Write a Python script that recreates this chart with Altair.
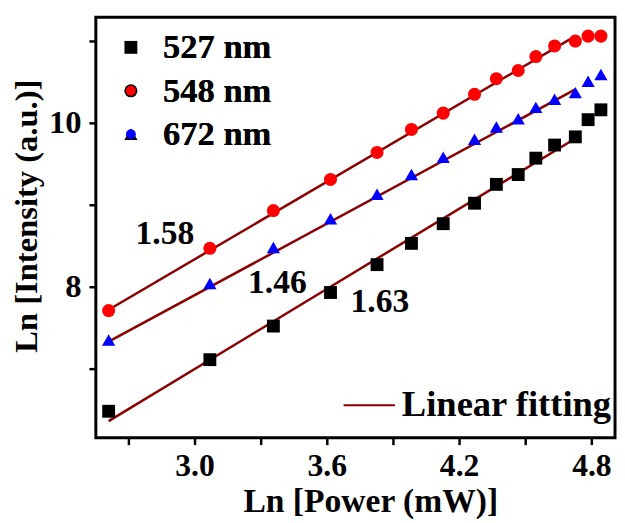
import altair as alt
import pandas as pd

# ---- data ----
ln_power = [2.611, 3.07, 3.358, 3.617, 3.828, 3.984, 4.128, 4.27, 4.369, 4.468, 4.548, 4.633, 4.727, 4.785, 4.843]
i527 = [6.48, 7.11, 7.52, 7.93, 8.27, 8.53, 8.77, 9.02, 9.25, 9.37, 9.57, 9.73, 9.83, 10.04, 10.16]
i548 = [7.71, 8.47, 8.93, 9.31, 9.64, 9.92, 10.12, 10.35, 10.54, 10.64, 10.81, 10.94, 11.00, 11.06, 11.06]
i672 = [7.35, 8.04, 8.48, 8.83, 9.13, 9.37, 9.58, 9.80, 9.95, 10.05, 10.19, 10.29, 10.37, 10.51, 10.59]

series = ["527 nm", "548 nm", "672 nm"]
colors = ["#000000", "#FF0000", "#0000FF"]
shapes = ["square", "circle", "triangle-up"]
sizes = [170, 180, 320]

fit_x = [2.611, 4.727]
fit527 = [6.36, 9.81]
fit548 = [7.72, 11.06]
fit672 = [7.33, 10.41]
fit_label = "Linear fitting"

slope_text = ["1.58", "1.46", "1.63"]
slope_x = [2.866, 3.376, 3.841]
slope_y = [8.64, 8.04, 7.81]

x_ticks = [2.7, 3.0, 3.3, 3.6, 3.9, 4.2, 4.5, 4.8]
y_ticks = [7, 8, 9, 10, 11]

# ---- tables ----
pts = []
for name, vals in zip(series, [i527, i548, i672]):
    for xv, yv in zip(ln_power, vals):
        pts.append({"x": xv, "y": yv, "series": name})
pts = pd.DataFrame(pts)

fits = []
for name, vals in zip(series, [fit527, fit548, fit672]):
    for xv, yv in zip(fit_x, vals):
        fits.append({"x": xv, "y": yv, "series": name, "fit": fit_label})
fits = pd.DataFrame(fits)

ann = pd.DataFrame({"x": slope_x, "y": slope_y, "t": slope_text})

FONT = "Liberation Serif"
xscale = alt.Scale(domain=[2.553, 4.907], nice=False, zero=False)
yscale = alt.Scale(domain=[6.157, 11.29], nice=False, zero=False)

xaxis = alt.Axis(
    values=x_ticks,
    labelExpr="round(datum.value*10) % 6 == 0 ? format(datum.value, '.1f') : ''",
    title="Ln [Power (mW)]",
    grid=False, domain=False,
    tickSize=7, tickWidth=2.5, tickColor="black",
    labelFont=FONT, labelFontWeight="bold", labelFontSize=32, labelColor="black",
    labelPadding=6, labelFlush=False, labelOverlap=False,
    titleFont=FONT, titleFontWeight="bold", titleFontSize=34, titleColor="black",
    titleX=278, titleY=75, titleAlign="center", titleBaseline="alphabetic",
)
yaxis = alt.Axis(
    values=y_ticks,
    labelExpr="datum.value % 2 == 0 ? datum.label : ''",
    title="Ln [Intensity (a.u.)]",
    grid=False, domain=False,
    tickSize=7, tickWidth=2.5, tickColor="black",
    labelFont=FONT, labelFontWeight="bold", labelFontSize=33, labelColor="black",
    labelPadding=8, labelFlush=False, labelOverlap=False,
    titleFont=FONT, titleFontWeight="bold", titleFontSize=33, titleColor="black",
    titleX=-60, titleY=201, titleAngle=270, titleAlign="center", titleBaseline="alphabetic",
)

x_enc = alt.X("x:Q", scale=xscale, axis=xaxis)
y_enc = alt.Y("y:Q", scale=yscale, axis=yaxis)

leg_common = dict(
    orient="none", title=None,
    labelFont=FONT, labelFontWeight="bold", labelColor="black",
    padding=0, labelLimit=0,
)

lines = alt.Chart(fits).mark_line(strokeWidth=2.5).encode(
    x=x_enc, y=y_enc,
    detail="series:N",
    stroke=alt.Stroke(
        "fit:N",
        scale=alt.Scale(domain=[fit_label], range=["#8B0000"]),
        legend=alt.Legend(legendX=250, legendY=366, symbolType="stroke",
                          symbolSize=2704, symbolStrokeWidth=2, labelOffset=6,
                          labelFontSize=37, **leg_common),
    ),
)

ser_leg = dict(legendX=18, legendY=13, labelOffset=15, rowPadding=8,
               symbolOpacity=1, labelFontSize=35, **leg_common)

points = alt.Chart(pts).mark_point(filled=True, opacity=1).encode(
    x=x_enc, y=y_enc,
    color=alt.Color("series:N", scale=alt.Scale(domain=series, range=colors),
                    legend=alt.Legend(**ser_leg)),
    shape=alt.Shape("series:N", scale=alt.Scale(domain=series, range=shapes),
                    legend=alt.Legend(**ser_leg)),
    size=alt.Size("series:N", scale=alt.Scale(domain=series, range=sizes),
                  legend=alt.Legend(**ser_leg)),
)

labels = alt.Chart(ann).mark_text(
    font=FONT, fontWeight="bold", fontSize=34, color="black"
).encode(x=x_enc, y=y_enc, text="t:N")

chart = alt.layer(lines, points, labels).resolve_scale(
    color="independent", stroke="independent"
).properties(
    width=526, height=426,
    autosize=alt.AutoSizeParams(type="none"),
    padding={"left": 89, "top": 6, "right": 2, "bottom": 83},
    background="white",
).configure_view(stroke="black", strokeWidth=3)

chart.save("out.html", embed_options={"renderer": "svg", "actions": False})
